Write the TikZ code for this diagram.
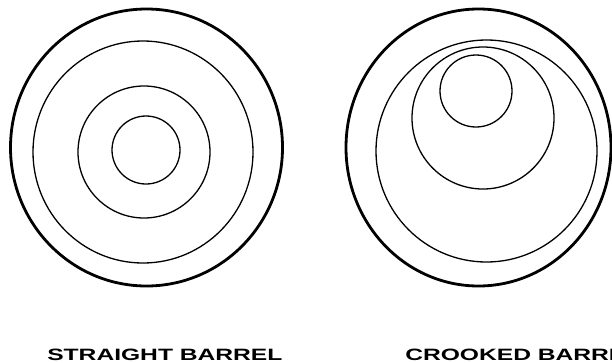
\documentclass[tikz,border=0pt]{standalone}
\usepackage{fontspec}
\setmainfont{Liberation Sans}
\usetikzlibrary{positioning}
\tikzset{
    % Ring styles
    barrel/.style={
        draw=black,
        line width=2.8pt
    },
    bore/.style={
        draw=black,
        line width=1.3pt
    },
    % Caption style
    caption/.style={
        anchor=base west,
        inner sep=0pt,
        font=\fontsize{16.4}{18}\selectfont\bfseries,
        xscale=1.5
    }
}
\begin{document}
\begin{tikzpicture}[x=1pt, y=-1pt]
    \useasboundingbox (0,0) rectangle (612,362);
    \clip (0,0) rectangle (612,362);

    % straight barrel
    \draw[barrel] (146.5,147.5) ellipse (136 and 138.5);
    \draw[bore] (143,152) ellipse (110 and 111);
    \draw[bore] (144,152) ellipse (66 and 66);
    \draw[bore] (146,150) ellipse (34 and 34);

    % crooked barrel
    \draw[barrel] (478.5,147.5) ellipse (132.5 and 138.5);
    \draw[bore] (486.5,151) ellipse (110.5 and 111);
    \draw[bore] (483,118) ellipse (71 and 71);
    \draw[bore] (476,91) ellipse (36 and 36);

    \node[caption] (straight) at (47,360) {STRAIGHT BARREL};
    \node[caption] (crooked) at (405,360) {CROOKED BARREL};
\end{tikzpicture}
\end{document}
